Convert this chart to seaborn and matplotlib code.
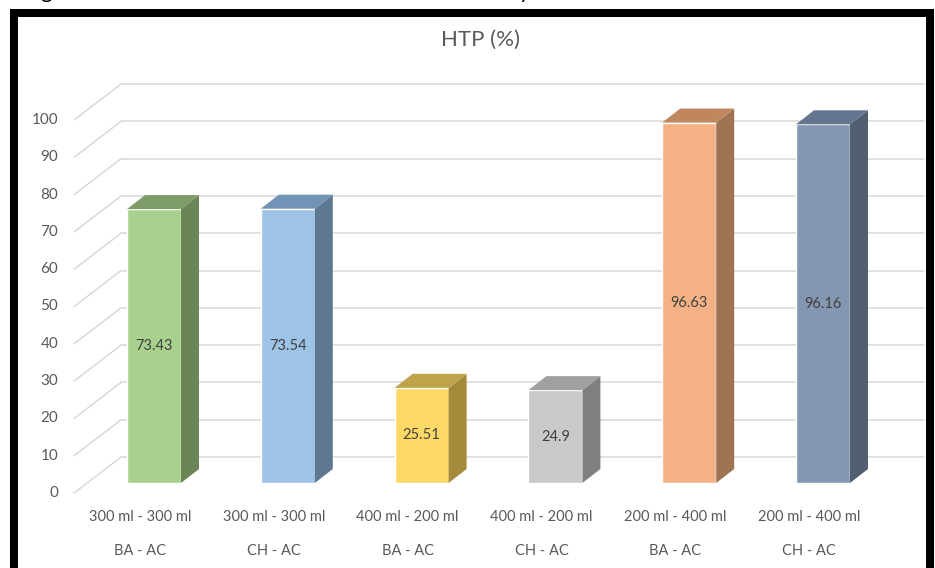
import matplotlib
matplotlib.use("Agg")
import matplotlib.pyplot as plt
import pandas as pd
import seaborn as sns
from matplotlib.patches import Polygon, Rectangle

# --- data -------------------------------------------------------------
volumes = ["300 ml - 300 ml", "300 ml - 300 ml", "400 ml - 200 ml",
           "400 ml - 200 ml", "200 ml - 400 ml", "200 ml - 400 ml"]
pairs = ["BA - AC", "CH - AC", "BA - AC", "CH - AC", "BA - AC", "CH - AC"]
htp = [73.43, 73.54, 25.51, 24.9, 96.63, 96.16]
y_ticks = list(range(0, 101, 10))
title = "HTP (%)"

front_colors = ["#A9D18E", "#9DC3E6", "#FFD966", "#C9C9C9", "#F4B183", "#8497B0"]
side_colors = ["#6A8656", "#5F7892", "#A48B3C", "#7F7F7F", "#9E7354", "#525F70"]
top_colors = ["#7D9C68", "#7093B6", "#BFA34A", "#A0A0A0", "#C0875F", "#64768F"]

# --- figure -----------------------------------------------------------
W, H, DPI = 935, 568, 100
sns.set_style("white")
plt.rcParams["font.family"] = ["Lato", "DejaVu Sans"]
TXT = "#595959"

fig = plt.figure(figsize=(W / DPI, H / DPI), dpi=DPI)
fig.patch.set_facecolor("white")
ax = fig.add_axes([87.1 / W, (H - 483) / H, 802.8 / W, 373 / H])

df = pd.DataFrame({
    "key": [f"{i}" for i in range(len(htp))],
    "htp": htp,
})
sns.barplot(data=df, x="key", y="htp", hue="key", palette=front_colors,
            saturation=1, width=0.4036, legend=False, ax=ax, zorder=3)
ax.set_xlim(-0.5, 5.5)
ax.set_ylim(0, 100)
ax.axis("off")

# pixel -> data conversion factors
p0 = ax.transData.transform((0, 0))
p1 = ax.transData.transform((1, 1))
kx, ky = p1[0] - p0[0], p1[1] - p0[1]
dx = lambda px: px / kx
dy = lambda px: px / ky

# 3D depth offsets (pixels): bar depth, back wall, front plane
BAR_DX, BAR_DY = 18, 14
BACK_DX, BACK_DY = 34, 26
FRONT_DX, FRONT_DY = -13, -10
GRID = "#D9D9D9"

x_left, x_right = ax.get_xlim()
for v in y_ticks:
    # back wall gridlines
    ax.plot([x_left + dx(BACK_DX), x_right + dx(BACK_DX)],
            [v + dy(BACK_DY), v + dy(BACK_DY)],
            color=GRID, lw=1.1, clip_on=False, zorder=0)
    # side wall lines
    ax.plot([x_left + dx(FRONT_DX), x_left + dx(BACK_DX)],
            [v + dy(FRONT_DY), v + dy(BACK_DY)],
            color=GRID, lw=1.1, clip_on=False, zorder=0)
    ax.text(x_left - dx(29), v - dy(10), f"{v}", ha="right", va="center",
            fontsize=11, color=TXT, clip_on=False)

# side and top faces of the columns
for i, p in enumerate(ax.patches):
    x0 = p.get_x()
    x1 = x0 + p.get_width()
    h = p.get_height()
    ddx, ddy = dx(BAR_DX), dy(BAR_DY)
    side = Polygon([(x1, 0), (x1 + ddx, ddy), (x1 + ddx, h + ddy), (x1, h)],
                   closed=True, facecolor=side_colors[i], edgecolor="none",
                   zorder=3, clip_on=False)
    top = Polygon([(x0, h), (x1, h), (x1 + ddx, h + ddy), (x0 + ddx, h + ddy)],
                  closed=True, facecolor=top_colors[i], edgecolor="none",
                  zorder=3, clip_on=False)
    ax.add_patch(side)
    ax.add_patch(top)
    ax.text(x0 + p.get_width() / 2, h / 2, f"{htp[i]:g}", ha="center",
            va="center", fontsize=10.5, color="#404040", zorder=5)

# category labels
for i, (vol, pair) in enumerate(zip(volumes, pairs)):
    ax.text(i + dx(FRONT_DX - 1), -dy(34), vol, ha="center", va="center",
            fontsize=10.5, color=TXT, clip_on=False)
    ax.text(i + dx(FRONT_DX - 1), -dy(68), pair, ha="center", va="center",
            fontsize=10.5, color=TXT, clip_on=False)

fig.text(481 / W, 1 - 40 / H, title, ha="center", va="center",
         fontsize=16, color=TXT)

# black frame around the chart
fig.add_artist(Rectangle((14 / W, -0.1), (929.5 - 14) / W, 1.1 - 13.5 / H,
                         transform=fig.transFigure, fill=False,
                         edgecolor="black", lw=8 * 72 / DPI,
                         joinstyle="miter"))

# caption text running into the top edge
fig.text(40 / W, 1 + 1.5 / H, "g", fontsize=16, color="black", va="baseline")
fig.text(519 / W, 1 + 1.5 / H, "y", fontsize=16, color="black", va="baseline")

fig.savefig("out.png", dpi=DPI, facecolor="white")
